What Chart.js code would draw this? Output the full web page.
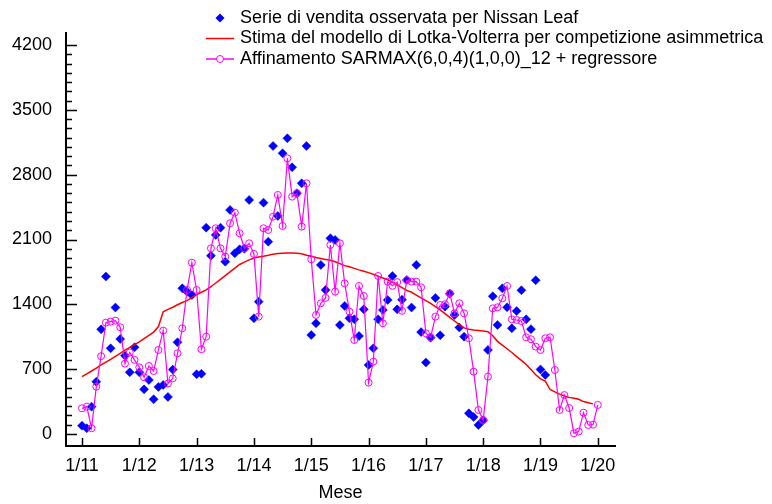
<!DOCTYPE html>
<html>
<head>
<meta charset="utf-8">
<script src="https://cdn.jsdelivr.net/npm/chart.js@4.4.1/dist/chart.umd.min.js"></script>
<style>
  html, body { margin: 0; padding: 0; background: #fff; }
  #wrap { width: 772px; height: 504px; }
</style>
</head>
<body>
<div id="wrap"><canvas id="myChart" width="772" height="504"></canvas></div>
<script>
// months are counted from 1/11 (0 = Jan 2011)
const xTickMonths = [0, 12, 24, 36, 48, 60, 72, 84, 96, 108];
const xTickLabels = ['1/11', '1/12', '1/13', '1/14', '1/15', '1/16', '1/17', '1/18', '1/19', '1/20'];
const yTickValues = [0, 700, 1400, 2100, 2800, 3500, 4200];
const yMinorStep = 100;

// observed monthly sales (from 1/11)
const observedSales = [
  90, 62, 295, 565, 1130, 1700, 925, 1365, 1025, 845,
  666, 936, 666, 482, 583, 375, 508, 530, 400, 695,
  990, 1573, 1537, 1500, 645, 650, 2228, 1925, 2149, 2228,
  1861, 2419, 1951, 1994, 2000, 2527, 1249, 1429, 2498, 2077,
  3110, 2354, 3031, 3193, 2880, 2600, 2707, 3110, 1069, 1195,
  1825, 1555, 2113, 2095, 1177, 1382, 1249, 1238, 1058, 1346,
  745, 925, 1238, 1339, 1447, 1706, 1346, 1450, 1663, 1365,
  1825, 1100, 772, 1040, 1468, 1065, 1375, 1515, 1285, 1150,
  1051, 223, 183, 97, 148, 907, 1487, 1177, 1573, 1368,
  1141, 1327, 1552, 1238, 1132, 1660, 697, 637
];

// Lotka-Volterra estimate
const lotkaVolterra = [
  619, 650, 680, 712, 745, 775, 805, 838, 870, 905,
  935, 965, 995, 1030, 1065, 1100, 1160, 1320, 1345, 1368,
  1395, 1420, 1440, 1475, 1505, 1530, 1555, 1590, 1630, 1670,
  1710, 1750, 1790, 1830, 1855, 1880, 1900, 1910, 1920, 1930,
  1942, 1948, 1952, 1955, 1955, 1952, 1945, 1930, 1918, 1905,
  1895, 1885, 1875, 1860, 1840, 1818, 1805, 1788, 1772, 1758,
  1742, 1725, 1705, 1685, 1665, 1640, 1610, 1580, 1550, 1530,
  1500, 1470, 1440, 1410, 1375, 1340, 1300, 1260, 1220, 1180,
  1145, 1130, 1123, 1118, 1112, 1105, 1060, 1000, 960, 920,
  880, 835, 795, 750, 695, 640, 595, 570, 480, 455,
  430, 410, 395, 385, 375, 350, 338, 325
];

// SARMAX refinement
const sarmaxFit = [
  277, 295, 62, 511, 840, 1202, 1213, 1224, 1152, 760,
  880, 800, 720, 612, 734, 680, 907, 1116, 545, 600,
  871, 1141, 1555, 1850, 1555, 915, 1051, 2005, 2221, 2005,
  1915, 2275, 2390, 2167, 2005, 2059, 1944, 1267, 2221, 2203,
  2347, 2581, 2246, 2977, 2563, 2600, 2239, 2707, 1886, 1285,
  1411, 1469, 2041, 1537, 2059, 1627, 1321, 1015, 1598, 1490,
  554, 781, 1706, 1195, 1645, 1600, 1640, 1330, 1660, 1645,
  1645, 1584, 1087, 1045, 1267, 1393, 1400, 1519, 1303, 1411,
  1303, 1033, 673, 259, 151, 619, 1357, 1368, 1465, 1598,
  1238, 1231, 1220, 1044, 1023, 943, 907, 1033, 1044, 691,
  259, 420, 280, 8, 25, 230, 97, 100, 313
];

const toPoints = arr => arr.map((v, i) => ({x: i, y: v}));
const FONT = '"Liberation Sans", Arial, sans-serif';
const FONT_SIZE = 18;

// ticks drawn inward, with minor ticks on the y axis
const axisTicks = {
  id: 'axisTicks',
  afterDraw(chart) {
    const {ctx, chartArea, scales} = chart;
    ctx.save();
    ctx.strokeStyle = '#000';
    ctx.lineWidth = 1.5;
    ctx.beginPath();
    const top = yTickValues[yTickValues.length - 1];
    for (let v = 0; v <= top; v += yMinorStep) {
      const py = Math.round(scales.y.getPixelForValue(v)) + 0.5;
      const len = (v % 700 === 0) ? 11 : 6;
      ctx.moveTo(chartArea.left, py);
      ctx.lineTo(chartArea.left + len, py);
    }
    xTickMonths.forEach(m => {
      const px = Math.round(scales.x.getPixelForValue(m)) + 0.5;
      ctx.moveTo(px, chartArea.bottom);
      ctx.lineTo(px, chartArea.bottom - 8);
    });
    ctx.stroke();
    ctx.restore();
  }
};

// legend as a left aligned column above the plot
const columnLegend = {
  id: 'columnLegend',
  afterDraw(chart, args, opts) {
    const ctx = chart.ctx;
    ctx.save();
    ctx.font = FONT_SIZE + 'px ' + FONT;
    ctx.textBaseline = 'middle';
    chart.data.datasets.forEach((ds, i) => {
      const y = opts.y + i * opts.rowGap;
      const cx = opts.x + 14;
      if (ds.showLine) {
        ctx.strokeStyle = ds.borderColor;
        ctx.lineWidth = 1.5;
        ctx.beginPath();
        ctx.moveTo(opts.x, y);
        ctx.lineTo(opts.x + 28, y);
        ctx.stroke();
      }
      if (ds.pointRadius > 0) {
        ctx.beginPath();
        if (ds.pointStyle === 'rectRot') {
          const r = ds.pointRadius;
          ctx.moveTo(cx, y - r); ctx.lineTo(cx + r, y); ctx.lineTo(cx, y + r); ctx.lineTo(cx - r, y);
          ctx.closePath();
          ctx.fillStyle = ds.backgroundColor;
          ctx.fill();
        } else {
          ctx.arc(cx, y, ds.pointRadius, 0, Math.PI * 2);
          ctx.fillStyle = '#fff';
          ctx.fill();
          ctx.strokeStyle = ds.borderColor;
          ctx.lineWidth = 1;
          ctx.stroke();
        }
      }
      ctx.fillStyle = '#000';
      ctx.fillText(ds.label, opts.x + 34, y);
    });
    ctx.restore();
  }
};

const whiteBg = {
  id: 'whiteBg',
  beforeDraw(chart) {
    const {ctx} = chart;
    ctx.save();
    ctx.fillStyle = '#fff';
    ctx.fillRect(0, 0, chart.width, chart.height);
    ctx.restore();
  }
};

new Chart(document.getElementById('myChart'), {
  type: 'scatter',
  data: {
    datasets: [
      {
        label: 'Serie di vendita osservata per Nissan Leaf',
        data: toPoints(observedSales),
        showLine: false,
        pointStyle: 'rectRot',
        pointRadius: 4.5,
        backgroundColor: '#0000ff',
        borderColor: '#0000ff',
        pointBorderWidth: 0.5,
        order: 2
      },
      {
        label: 'Stima del modello di Lotka-Volterra per competizione asimmetrica',
        data: toPoints(lotkaVolterra),
        showLine: true,
        pointRadius: 0,
        borderColor: '#ff0000',
        backgroundColor: '#ff0000',
        borderWidth: 1.5,
        tension: 0,
        order: 1
      },
      {
        label: 'Affinamento SARMAX(6,0,4)(1,0,0)_12 + regressore',
        data: toPoints(sarmaxFit),
        showLine: true,
        pointStyle: 'circle',
        pointRadius: 3.5,
        pointBorderWidth: 1,
        borderColor: '#ff00ff',
        backgroundColor: 'rgba(255,255,255,0)',
        borderWidth: 1.2,
        tension: 0,
        order: 0
      }
    ]
  },
  options: {
    responsive: false,
    animation: false,
    events: [],
    layout: { padding: { left: 0, right: 157, top: 33, bottom: 0 } },
    plugins: {
      legend: { display: false },
      tooltip: { enabled: false },
      columnLegend: { x: 206, y: 18, rowGap: 20.5 }
    },
    scales: {
      x: {
        type: 'linear',
        min: -3.35,
        max: 111.6,
        afterBuildTicks: s => { s.ticks = xTickMonths.map(v => ({value: v})); },
        afterFit: s => { s.height = 58; },
        grid: { display: false, drawTicks: false },
        border: { display: true, color: '#000', width: 2 },
        ticks: {
          autoSkip: false,
          maxRotation: 0,
          padding: 9,
          color: '#000',
          font: { family: FONT, size: FONT_SIZE },
          callback: (v, i) => xTickLabels[i]
        },
        title: {
          display: true,
          text: 'Mese',
          color: '#000',
          font: { family: FONT, size: FONT_SIZE },
          padding: { top: 2, bottom: 0 }
        }
      },
      y: {
        min: -130,
        max: 4330,
        afterBuildTicks: s => { s.ticks = yTickValues.map(v => ({value: v})); },
        afterFit: s => { s.width = 66; },
        grid: { display: false, drawTicks: false },
        border: { display: true, color: '#000', width: 2 },
        ticks: {
          padding: 14,
          color: '#000',
          font: { family: FONT, size: FONT_SIZE },
          callback: v => String(v)
        }
      }
    }
  },
  plugins: [whiteBg, axisTicks, columnLegend]
});
</script>
</body>
</html>
